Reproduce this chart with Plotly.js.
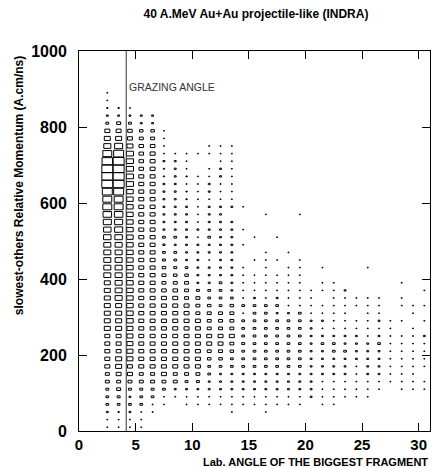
<!DOCTYPE html>
<html>
<head>
<meta charset="utf-8">
<script src="https://cdn.plot.ly/plotly-3.0.1.min.js"></script>
<style>
  html, body { margin: 0; padding: 0; background: #ffffff; }
  #chart { width: 432px; height: 468px; }
</style>
</head>
<body>
<div id="chart"></div>
<script>
// ---- Data: box-histogram cell contents (relative, max ~100) ----
// Lab angle bins are 1 degree wide, momentum bins are 20 A.cm/ns wide.
// Each binNN array lists contents for momentum bins 0-20, 20-40, ... (from 0 upward).
const angleBinLow = [2,3,4,5,6,7,8,9,10,11,12,13,14,15,16,17,18,19,20,21,22,23,24,25,26,27,28,29,30];
const angleBinWidth = 1;
const momentumBinWidth = 20;
const maxContent = 100;
const grazingAngle = 4.17;

const bin02 = [9,9,17,24,24,26,35,35,44,44, 44,44,44,53,53,53,53,53,53,53, 62,62,62,62,62,66,66,71,75,79, 79,88,97,97,97,93,79,62,53,44, 26,17,12,9,9];
const bin03 = [9,9,12,24,26,35,35,44,53,53, 44,44,44,53,53,53,53,62,62,62, 62,62,62,62,62,66,71,71,75,79, 79,88,97,97,97,97,88,71,53,44, 35,17,12];
const bin04 = [9,9,17,24,17,26,35,44,44,53, 53,53,53,53,57,57,57,57,57,57, 57,57,57,57,57,57,57,57,57,57, 57,57,62,62,62,62,62,53,44,40, 26,17,9];
const bin05 = [9,9,9,24,24,26,35,35,44,44, 44,44,44,44,44,44,44,44,44,44, 44,44,44,44,44,44,44,44,44,44, 44,44,44,44,40,40,40,40,35,31, 17,17];
const bin06 = [0,0,9,9,24,26,35,35,44,44, 44,44,44,44,44,44,44,44,44,44, 44,44,44,44,44,44,44,44,44,44, 44,44,44,44,44,44,44,40,35,31, 17,17];
const bin07 = [0,0,0,9,9,24,35,44,44,44, 44,44,44,44,44,44,44,44,40,35, 35,31,26,24,20,24,17,17,17,17, 17,17,17,12,12,17,9,9,9,9];
const bin08 = [0,0,0,0,9,17,35,35,44,44, 44,44,44,44,44,44,44,44,40,35, 31,26,24,24,17,24,17,17,17,17, 17,17,17,17,17,17,9];
const bin09 = [0,0,0,9,9,17,26,35,44,44, 44,44,44,44,44,44,44,35,35,35, 31,24,17,17,17,17,17,17,17,17, 12,12,9,12,9,9,9];
const bin10 = [0,0,0,9,9,17,26,35,44,44, 44,44,44,44,44,35,35,35,26,17, 17,17,17,17,17,9,17,9,9,9, 9,9,9,9,0,0,9];
const bin11 = [0,0,0,9,9,17,17,24,24,31, 35,44,44,35,35,35,31,24,24,17, 17,17,9,17,17,24,17,17,17,17, 9,17,17,9,9,0,9,9];
const bin12 = [0,0,0,9,9,17,17,17,24,31, 35,44,44,35,35,35,24,24,24,24, 17,17,17,17,17,17,17,17,17,17, 9,9,9,17,17,9,9,9];
const bin13 = [0,0,9,9,9,17,17,17,24,24, 31,35,44,35,35,35,31,24,17,17, 17,17,17,17,17,17,17,17,0,17, 9,9,9,9,9,9,9,9];
const bin14 = [0,0,0,9,9,17,17,17,24,24, 24,26,24,24,24,9,24,9,9,9, 9,9,0,0,9,0,9,0,0,9];
const bin15 = [0,0,0,9,9,17,17,17,24,24, 24,24,24,24,24,24,24,17,9,9, 9,0,9,0,0,9];
const bin16 = [0,0,9,9,9,17,17,17,24,24, 24,24,24,24,24,24,24,9,9,9, 9,9,9,9,0,0,0,0,9];
const bin17 = [0,0,0,9,9,17,17,17,24,24, 24,24,24,24,24,17,24,17,9,9, 9,0,9,0,0,9];
const bin18 = [0,0,0,9,9,17,17,17,24,24, 24,24,24,24,24,17,9,9,9,9, 9,9,0,9];
const bin19 = [0,0,0,9,9,17,17,17,24,24, 24,24,24,24,24,24,9,9,9,9, 9,9,9,0,0,0,0,0,9];
const bin20 = [0,0,0,0,17,17,17,17,17,17, 17,17,17,17,17,9,9,9,9];
const bin21 = [0,0,0,9,9,9,9,17,17,17, 17,24,17,9,17,9,9,0,9,9, 0,9];
const bin22 = [0,0,0,9,9,9,9,17,17,17, 24,24,17,9,9,9,9,9,9,9];
const bin23 = [0,0,0,0,9,9,9,17,17,17, 24,17,17,9,9,9,9,9,17];
const bin24 = [0,0,0,0,9,9,9,9,9,17, 17,17,17,9,9,0,9,9];
const bin25 = [0,0,0,0,9,9,9,17,17,17, 17,17,9,9,9,9,9,9,0,0, 0,9];
const bin26 = [0,0,0,0,0,9,9,17,17,17, 17,24,17,9,17,9,9,9];
const bin27 = [0,0,0,0,0,0,9,9,9,9, 9,9,9,9,9];
const bin28 = [0,0,0,0,0,9,9,9,9,9, 9,9,9,0,9,0,9,9,0,9];
const bin29 = [0,0,0,0,0,9,9,9,9,9, 9,9,9,9,0,9,9];
const bin30 = [0,0,0,0,0,9,9,0,9,9, 9,9,17,0,9,0,9,0,9];

const columns = [bin02,bin03,bin04,bin05,bin06,bin07,bin08,bin09,bin10,bin11,bin12,bin13,bin14,bin15,bin16,
                 bin17,bin18,bin19,bin20,bin21,bin22,bin23,bin24,bin25,bin26,bin27,bin28,bin29,bin30];

const xTickVals = [0,5,10,15,20,25,30];
const yTickVals = [0,200,400,600,800,1000];

// ---- Build box outlines (ROOT "BOX" style) in data coordinates ----
const bx = [], by = [];
columns.forEach((col, i) => {
  const xc = angleBinLow[i] + angleBinWidth / 2;
  col.forEach((v, k) => {
    if (!v) return;
    const f = v / maxContent;
    const hx = f * angleBinWidth / 2;
    const hy = f * momentumBinWidth / 2;
    const yc = (k + 0.5) * momentumBinWidth;
    bx.push(xc - hx, xc + hx, xc + hx, xc - hx, xc - hx, null);
    by.push(yc - hy, yc - hy, yc + hy, yc + hy, yc - hy, null);
  });
});

const boldFont = 'Liberation Sans, Arial, Helvetica, sans-serif';

const traces = [{
  type: 'scatter',
  mode: 'lines',
  x: bx,
  y: by,
  connectgaps: false,
  line: { color: '#000000', width: 1, simplify: false },
  hoverinfo: 'skip',
  showlegend: false
}];

const axisCommon = {
  ticks: 'inside',
  ticklen: 8,
  tickwidth: 1,
  tickcolor: '#000000',
  showline: true,
  linecolor: '#000000',
  linewidth: 1,
  mirror: 'ticks',
  showgrid: false,
  zeroline: false,
  fixedrange: true
};

const layout = {
  width: 432,
  height: 468,
  margin: { l: 79, r: 2, t: 51, b: 37, pad: 0 },
  paper_bgcolor: '#ffffff',
  plot_bgcolor: '#ffffff',
  showlegend: false,
  title: {
    text: '40 A.MeV Au+Au projectile-like (INDRA)',
    font: { family: boldFont, size: 12, weight: 'bold', color: '#000000' },
    x: 256 / 432,
    xanchor: 'center',
    y: 1 - 14 / 468,
    yanchor: 'middle'
  },
  xaxis: Object.assign({}, axisCommon, {
    range: [0, 31],
    tickmode: 'array',
    tickvals: xTickVals,
    ticktext: xTickVals.map(String),
    ticklabelstandoff: 0,
    tickfont: { family: boldFont, size: 15, weight: 'bold', color: '#000000' }
  }),
  yaxis: Object.assign({}, axisCommon, {
    range: [0, 1000],
    tickmode: 'array',
    tickvals: yTickVals,
    ticktext: yTickVals.map(String),
    ticklabelstandoff: 8,
    tickfont: { family: boldFont, size: 16, weight: 'bold', color: '#000000' }
  }),
  shapes: [{
    type: 'line',
    xref: 'x', yref: 'paper',
    x0: grazingAngle, x1: grazingAngle, y0: 0, y1: 1,
    line: { color: '#333333', width: 1 }
  }],
  annotations: [
    {
      text: 'GRAZING ANGLE',
      xref: 'x', yref: 'y',
      x: grazingAngle, y: 905,
      xanchor: 'left', yanchor: 'middle', xshift: 1,
      showarrow: false,
      font: { family: 'Liberation Sans, Arial, sans-serif', size: 10.5, color: '#333333' }
    },
    {
      text: 'Lab. ANGLE OF THE BIGGEST FRAGMENT',
      xref: 'paper', yref: 'paper',
      x: 1, y: -(462 - 431) / 380,
      xanchor: 'right', yanchor: 'middle',
      showarrow: false,
      font: { family: boldFont, size: 11, weight: 'bold', color: '#000000' }
    },
    {
      text: 'slowest-others Relative Momentum (A.cm/ns)',
      xref: 'paper', yref: 'paper',
      x: (19 - 79) / 349, y: 1 - 3 / 380,
      xanchor: 'center', yanchor: 'top',
      textangle: -90,
      showarrow: false,
      font: { family: boldFont, size: 12, weight: 'bold', color: '#000000' }
    }
  ]
};

Plotly.newPlot('chart', traces, layout, { displayModeBar: false, staticPlot: true });
</script>
</body>
</html>
